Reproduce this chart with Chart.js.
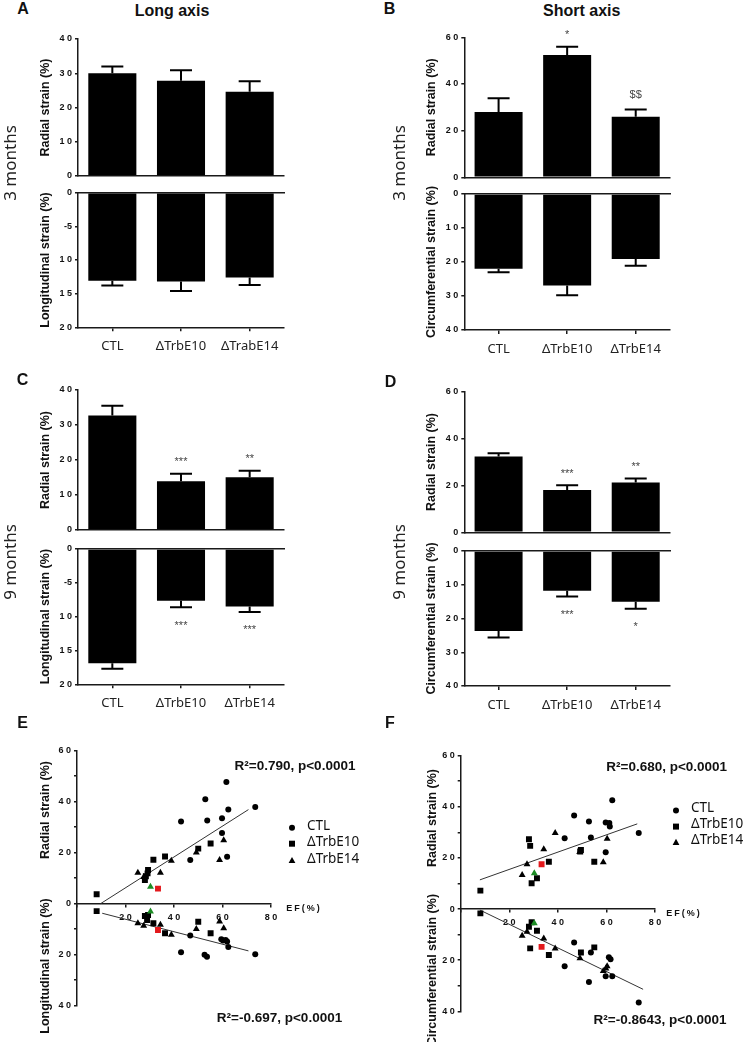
<!DOCTYPE html>
<html><head><meta charset="utf-8">
<script src="https://cdn.jsdelivr.net/npm/chart.js@4.4.1/dist/chart.umd.min.js"></script>
<style>
html,body{margin:0;padding:0;background:#fff;}
#fig{position:relative;width:743px;height:1042px;overflow:hidden;background:#fff;}
#fig canvas{position:absolute;}
.t{position:absolute;white-space:nowrap;transform:translate(-50%,-50%);color:#111;font-family:'Liberation Sans',Arial,sans-serif;line-height:1;}
.rot{transform:translate(-50%,-50%) rotate(-90deg);}
</style></head><body><div id="fig"></div>
<script>
// ---------------- data ----------------
const catsA = ['CTL', 'ΔTrbE10', 'ΔTrabE14'];
const cats = ['CTL', 'ΔTrbE10', 'ΔTrbE14'];

const A_radial = [30.0, 27.8, 24.6];
const A_radial_err = [32.0, 30.9, 27.7];
const A_long = [13.1, 13.2, 12.6];
const A_long_err = [13.8, 14.6, 13.7];

const B_radial = [28.0, 52.4, 26.0];
const B_radial_err = [33.9, 56.0, 29.1];
const B_radial_sig = ['', '*', '$$'];
const B_circ = [22.0, 26.9, 19.1];
const B_circ_err = [23.0, 29.8, 21.1];

const C_radial = [32.7, 13.9, 15.1];
const C_radial_err = [35.5, 16.1, 16.9];
const C_radial_sig = ['', '***', '**'];
const C_long = [16.9, 7.65, 8.5];
const C_long_err = [17.7, 8.6, 9.3];
const C_long_sig = ['', '***', '***'];

const D_radial = [32.3, 18.1, 21.2];
const D_radial_err = [33.7, 20.1, 23.0];
const D_radial_sig = ['', '***', '**'];
const D_circ = [23.7, 11.8, 15.0];
const D_circ_err = [25.6, 13.5, 17.1];
const D_circ_sig = ['', '***', '*'];

const ticks40 = ['0', '1 0', '2 0', '3 0', '4 0'];
const ticks60 = ['0', '2 0', '4 0', '6 0'];
const ticks20neg = ['0', '-5', '1 0', '1 5', '2 0'];
const ticks40down = ['0', '1 0', '2 0', '3 0', '4 0'];
const ticksScatterY = ['4 0', '', '2 0', '', '0', '', '2 0', '', '4 0', '', '6 0'];
const ticksScatterX = ['', '2 0', '4 0', '6 0', '8 0'];
const legendNames = ['CTL', 'ΔTrbE10', 'ΔTrbE14'];

// Panel E (EF % vs strain)
const E_rad_CTL_ef = [61.6, 52.9, 62.4, 73.5, 42.9, 53.7, 59.8, 59.8, 46.7, 61.9];
const E_rad_CTL = [47.7, 41.0, 36.9, 37.9, 32.2, 32.6, 33.5, 27.7, 17.1, 18.4];
const E_rad_E10_ef = [8.1, 31.5, 36.3, 50.0, 55.1, 29.3, 29.1, 28.4, 28.0];
const E_rad_E10 = [3.7, 17.2, 18.5, 21.6, 23.6, 13.2, 11.9, 10.8, 9.3];
const E_rad_E10_red_ef = [33.4];
const E_rad_E10_red = [5.9];
const E_rad_E14_ef = [25.1, 34.4, 38.9, 49.2, 60.5, 58.8, 27.5];
const E_rad_E14 = [12.1, 12.1, 16.8, 20.1, 24.9, 17.1, 10.5];
const E_rad_E14_green_ef = [30.3];
const E_rad_E14_green = [6.6];
const E_long_CTL_ef = [42.9, 52.6, 53.6, 46.7, 59.5, 60.2, 61.3, 61.9, 62.4, 73.5];
const E_long_CTL = [-19.0, -20.0, -20.8, -12.5, -13.9, -14.4, -14.2, -14.8, -17.0, -19.8];
const E_long_E10_ef = [8.1, 28.0, 28.9, 29.3, 31.5, 36.3, 50.0, 55.1];
const E_long_E10 = [-2.9, -4.8, -6.4, -4.4, -7.7, -11.6, -7.1, -11.6];
const E_long_E10_red_ef = [33.4];
const E_long_E10_red = [-10.3];
const E_long_E14_ef = [25.1, 27.5, 34.4, 38.9, 49.2, 58.8, 60.5];
const E_long_E14 = [-7.7, -8.6, -8.3, -12.2, -9.9, -7.0, -9.6];
const E_long_E14_green_ef = [30.3];
const E_long_E14_green = [-3.1];
const E_rad_fit_ef = [9.7, 70.7];
const E_rad_fit = [0.0, 36.9];
const E_long_fit_ef = [10.4, 70.7];
const E_long_fit = [-3.75, -18.5];

// Panel F
const F_rad_CTL_ef = [62.4, 46.7, 52.8, 59.7, 61.2, 61.4, 73.3, 42.8, 53.6, 59.7];
const F_rad_CTL = [42.5, 36.6, 34.2, 33.8, 33.6, 32.3, 29.7, 27.7, 28.0, 22.2];
const F_rad_E10_ef = [8.1, 28.1, 28.6, 29.2, 31.4, 36.3, 49.5, 49.2, 55.0];
const F_rad_E10 = [7.2, 27.3, 24.7, 10.1, 12.0, 18.5, 23.1, 22.5, 18.5];
const F_rad_E10_red_ef = [33.3];
const F_rad_E10_red = [17.5];
const F_rad_E14_ef = [25.3, 27.3, 34.2, 38.9, 49.0, 60.3, 58.7];
const F_rad_E14 = [13.3, 17.5, 23.4, 29.7, 22.3, 27.5, 18.3];
const F_rad_E14_green_ef = [30.3];
const F_rad_E14_green = [14.0];
const F_circ_CTL_ef = [46.7, 53.6, 61.0, 61.7, 42.8, 52.8, 59.7, 62.4, 73.3];
const F_circ_CTL = [-13.1, -17.0, -18.9, -19.6, -22.4, -28.5, -26.3, -26.3, -36.6];
const F_circ_E10_ef = [8.1, 28.1, 29.2, 31.4, 28.6, 36.3, 49.5, 55.0];
const F_circ_E10 = [-1.7, -6.9, -5.2, -8.5, -15.4, -18.0, -17.0, -15.0];
const F_circ_E10_red_ef = [33.3];
const F_circ_E10_red = [-14.8];
const F_circ_E14_ef = [25.3, 27.3, 34.2, 38.9, 49.1, 58.7, 59.8, 60.3];
const F_circ_E14 = [-10.5, -8.9, -11.5, -15.4, -19.3, -24.2, -23.3, -22.4];
const F_circ_E14_green_ef = [30.3];
const F_circ_E14_green = [-5.6];
const F_rad_fit_ef = [7.9, 72.7];
const F_rad_fit = [11.4, 33.3];
const F_circ_fit_ef = [7.9, 75.1];
const F_circ_fit = [-0.4, -31.4];

// ---------------- helpers ----------------
Chart.defaults.font.family = "'Liberation Sans', Arial, sans-serif";
Chart.defaults.color = '#111';
Chart.defaults.animation = false;
const AX = '#1a1a1a';
const fig = document.getElementById('fig');

function place(plot, yW, xH, topH, extraR) {
  const cl = Math.floor(plot.l - yW) - 2;
  const ct = Math.floor(plot.t - topH) - 10;
  const cr = Math.ceil(plot.r) + (extraR || 14);
  const cb = Math.ceil(plot.b + xH) + 10;
  return {cl, ct, w: cr - cl, h: cb - ct,
    pad: {left: plot.l - yW - cl, top: plot.t - topH - ct, right: cr - plot.r, bottom: cb - plot.b - xH}};
}
function mkCanvas(p) {
  const c = document.createElement('canvas');
  c.width = p.w; c.height = p.h;
  c.style.left = p.cl + 'px'; c.style.top = p.ct + 'px';
  c.style.width = p.w + 'px'; c.style.height = p.h + 'px';
  fig.appendChild(c);
  return c;
}
function txt(s, x, y, css, rot) {
  const d = document.createElement('div');
  d.className = 't' + (rot ? ' rot' : '');
  d.textContent = s;
  d.style.left = x + 'px'; d.style.top = y + 'px';
  d.style.cssText += css || '';
  fig.appendChild(d);
}
function zip(xs, ys) { return xs.map((x, i) => ({x, y: ys[i]})); }

const errPlugin = {
  id: 'errbars',
  afterDatasetsDraw(chart, args, opts) {
    const ctx = chart.ctx;
    const meta = chart.getDatasetMeta(0);
    const ys = chart.scales.y;
    const dir = ys.options.reverse ? 1 : -1;
    ctx.save();
    ctx.strokeStyle = '#000';
    ctx.lineWidth = 2;
    meta.data.forEach((bar, i) => {
      const yE = ys.getPixelForValue(opts.err[i]);
      ctx.beginPath();
      ctx.moveTo(bar.x, bar.y); ctx.lineTo(bar.x, yE);
      ctx.moveTo(bar.x - 11, yE); ctx.lineTo(bar.x + 11, yE);
      ctx.stroke();
      const s = opts.sig ? opts.sig[i] : '';
      if (s) {
        const size = 11;
        ctx.font = size + "px 'Liberation Sans', Arial, sans-serif";
        ctx.fillStyle = '#444';
        ctx.textAlign = 'center';
        ctx.textBaseline = 'alphabetic';
        const cy = yE + dir * 15;
        const k = s.indexOf('$') >= 0 ? 0.36 : 0.58;
        ctx.fillText(s, bar.x, cy + k * size);
      }
    });
    ctx.restore();
  }
};

function barChart(plot, labels, vals, err, sig, yMax, step, tickLabels, reverse, title, showCats) {
  const yW = 78, xH = showCats ? 40 : 0;
  const p = place(plot, yW, xH, 0);
  const cv = mkCanvas(p);
  const scales = {
    x: {type: 'category', position: 'bottom', offset: true,
      grid: {display: showCats, offset: false, drawOnChartArea: false, drawTicks: true, tickLength: 4, color: AX, lineWidth: 1.5},
      border: {display: true, color: AX, width: 1.5},
      ticks: {display: showCats, padding: 7, font: {family: "'Noto Sans', sans-serif", size: 13}, color: '#222', maxRotation: 0, autoSkip: false},
      afterFit: s => { s.height = xH; }
    },
    y: {min: 0, max: yMax, reverse: reverse,
      ticks: {stepSize: step, padding: 3, font: {size: 9, weight: 'bold'}, color: '#111',
        callback: v => tickLabels[Math.round(v / step)]},
      grid: {drawOnChartArea: false, drawTicks: true, tickLength: 3, color: AX, lineWidth: 1.5},
      border: {display: true, color: AX, width: 1.5},
      title: {display: true, text: title, font: {size: 12.5, weight: 'bold'}, color: '#111', padding: {top: 38, bottom: 0}},
      afterFit: s => { s.width = yW; }
    }
  };
  if (reverse) {
    scales.x2 = {type: 'category', position: 'top', offset: true, grid: {display: false},
      border: {display: true, color: AX, width: 1.5}, ticks: {display: false},
      afterFit: s => { s.height = 0; }};
  }
  new Chart(cv, {
    type: 'bar',
    data: {labels: labels, datasets: [{data: vals, backgroundColor: '#000', borderWidth: 0, barPercentage: 0.7, categoryPercentage: 1}]},
    options: {responsive: false, animation: false, layout: {padding: p.pad},
      plugins: {legend: {display: false}, tooltip: {enabled: false}, errbars: {err: err, sig: sig}},
      scales: scales},
    plugins: [errPlugin]
  });
}

const legendPlugin = {
  id: 'ptlegend',
  afterDraw(chart, args, opts) {
    const ctx = chart.ctx, ca = chart.chartArea;
    const styles = ['circle', 'rect', 'triangle'];
    ctx.save();
    opts.names.forEach((n, i) => {
      const x = ca.right + 21, y = ca.top + opts.dy[i];
      ctx.fillStyle = '#000';
      ctx.beginPath();
      if (styles[i] === 'circle') ctx.arc(x, y, 3, 0, Math.PI * 2);
      else if (styles[i] === 'rect') ctx.rect(x - 3, y - 3, 6, 6);
      else { ctx.moveTo(x, y - 3.8); ctx.lineTo(x + 3.4, y + 2.4); ctx.lineTo(x - 3.4, y + 2.4); ctx.closePath(); }
      ctx.fill();
      ctx.font = "13.5px 'Noto Sans', sans-serif";
      ctx.fillStyle = '#111';
      ctx.textAlign = 'left';
      ctx.textBaseline = 'middle';
      ctx.fillText(n, ca.right + 36, y - 2);
    });
    ctx.restore();
  }
};

function scatterChart(plot, groups, fits, dy, extraR) {
  const yW = 50;
  const p = place(plot, yW, 0, 0, extraR);
  const cv = mkCanvas(p);
  const ds = [];
  const mk = (data, style, r, col) => ({type: 'scatter', data: data, pointStyle: style, pointRadius: r,
    pointBackgroundColor: col, pointBorderWidth: 0, pointBorderColor: col, showLine: false});
  groups.forEach(g => {
    ds.push(mk(g.ctl, 'circle', 3, '#000'));
    ds.push(mk(g.e10hl, 'rect', 4.2, '#e3191c'));
    ds.push(mk(g.e14hl, 'triangle', 4, '#1c8c24'));
    ds.push(mk(g.e10, 'rect', 4.2, '#000'));
    ds.push(mk(g.e14, 'triangle', 4, '#000'));
  });
  fits.forEach(f => ds.push({type: 'line', data: f, borderColor: '#333', borderWidth: 1, pointRadius: 0, showLine: true, fill: false}));
  new Chart(cv, {
    type: 'scatter',
    data: {datasets: ds},
    options: {responsive: false, animation: false, layout: {padding: p.pad},
      plugins: {legend: {display: false}, tooltip: {enabled: false}, ptlegend: {names: legendNames, dy: dy}},
      scales: {
        x: {type: 'linear', min: 0, max: 80, position: {y: 0},
          ticks: {stepSize: 20, autoSkip: false, maxRotation: 0, padding: 5, font: {size: 9, weight: 'bold'}, color: '#111',
            callback: v => ticksScatterX[Math.round(v / 20)]},
          grid: {drawOnChartArea: false, drawTicks: true, tickLength: 3, color: AX, lineWidth: 1.5},
          border: {display: true, color: AX, width: 1.5}},
        y: {min: -40, max: 60,
          ticks: {stepSize: 10, autoSkip: false, padding: 3, font: {size: 9, weight: 'bold'}, color: '#111',
            callback: v => ticksScatterY[Math.round((v + 40) / 10)]},
          grid: {drawOnChartArea: false, drawTicks: true, tickLength: 3, color: AX, lineWidth: 1.5},
          border: {display: true, color: AX, width: 1.5},
          afterFit: s => { s.width = yW; }}
      }},
    plugins: [legendPlugin]
  });
}

// ---------------- bar panels ----------------
const L = 78, LR = 284, R = 464.3, RR = 670;
barChart({l: L, r: LR, t: 39, b: 176}, catsA, A_radial, A_radial_err, null, 40, 10, ticks40, false, 'Radial strain (%)', false);
barChart({l: L, r: LR, t: 192.7, b: 327.3}, catsA, A_long, A_long_err, null, 20, 5, ticks20neg, true, 'Longitudinal strain (%)', true);
barChart({l: R, r: RR, t: 37.3, b: 177.3}, cats, B_radial, B_radial_err, B_radial_sig, 60, 20, ticks60, false, 'Radial strain (%)', false);
barChart({l: R, r: RR, t: 194, b: 330}, cats, B_circ, B_circ_err, null, 40, 10, ticks40down, true, 'Circumferential strain (%)', true);
barChart({l: L, r: LR, t: 390, b: 530}, cats, C_radial, C_radial_err, C_radial_sig, 40, 10, ticks40, false, 'Radial strain (%)', false);
barChart({l: L, r: LR, t: 549, b: 684.3}, cats, C_long, C_long_err, C_long_sig, 20, 5, ticks20neg, true, 'Longitudinal strain (%)', true);
barChart({l: R, r: RR, t: 391.7, b: 532.3}, cats, D_radial, D_radial_err, D_radial_sig, 60, 20, ticks60, false, 'Radial strain (%)', false);
barChart({l: R, r: RR, t: 551, b: 686}, cats, D_circ, D_circ_err, D_circ_sig, 40, 10, ticks40down, true, 'Circumferential strain (%)', true);

// ---------------- scatter panels ----------------
scatterChart({l: 77, r: 271, t: 750.7, b: 1005.7}, [
  {ctl: zip(E_rad_CTL_ef, E_rad_CTL), e10: zip(E_rad_E10_ef, E_rad_E10), e10hl: zip(E_rad_E10_red_ef, E_rad_E10_red),
   e14: zip(E_rad_E14_ef, E_rad_E14), e14hl: zip(E_rad_E14_green_ef, E_rad_E14_green)},
  {ctl: zip(E_long_CTL_ef, E_long_CTL), e10: zip(E_long_E10_ef, E_long_E10), e10hl: zip(E_long_E10_red_ef, E_long_E10_red),
   e14: zip(E_long_E14_ef, E_long_E14), e14hl: zip(E_long_E14_green_ef, E_long_E14_green)}
], [zip(E_rad_fit_ef, E_rad_fit), zip(E_long_fit_ef, E_long_fit)], [77, 93, 110], 100);

scatterChart({l: 460.7, r: 655, t: 755.6, b: 1011.3}, [
  {ctl: zip(F_rad_CTL_ef, F_rad_CTL), e10: zip(F_rad_E10_ef, F_rad_E10), e10hl: zip(F_rad_E10_red_ef, F_rad_E10_red),
   e14: zip(F_rad_E14_ef, F_rad_E14), e14hl: zip(F_rad_E14_green_ef, F_rad_E14_green)},
  {ctl: zip(F_circ_CTL_ef, F_circ_CTL), e10: zip(F_circ_E10_ef, F_circ_E10), e10hl: zip(F_circ_E10_red_ef, F_circ_E10_red),
   e14: zip(F_circ_E14_ef, F_circ_E14), e14hl: zip(F_circ_E14_green_ef, F_circ_E14_green)}
], [zip(F_rad_fit_ef, F_rad_fit), zip(F_circ_fit_ef, F_circ_fit)], [55, 71, 87], 88);

// ---------------- text ----------------
const bold16 = 'font-weight:bold;font-size:16px;';
txt('A', 23, 9, bold16); txt('B', 389.5, 9, bold16);
txt('C', 22.5, 380, bold16); txt('D', 390.5, 382, bold16);
txt('E', 22.5, 723, bold16); txt('F', 390, 723, bold16);
txt('Long axis', 172, 11, bold16); txt('Short axis', 581.7, 11, bold16);
const mon = "font-family:'Noto Sans',sans-serif;font-size:17px;color:#222;";
txt('3 months', 9, 163, mon, true); txt('3 months', 398, 163, mon, true);
txt('9 months', 9, 562, mon, true); txt('9 months', 397.5, 562, mon, true);
const yt = 'font-weight:bold;font-size:12.5px;';
txt('Radial strain (%)', 45, 810, yt, true);
txt('Longitudinal strain (%)', 45, 966, yt, true);
txt('Radial strain (%)', 431.7, 818, yt, true);
txt('Circumferential strain (%)', 431.7, 970, yt, true);
const r2 = 'font-weight:bold;font-size:13.5px;';
txt('R²=0.790, p<0.0001', 295, 766, r2);
txt('R²=-0.697, p<0.0001', 279.5, 1018, r2);
txt('R²=0.680, p<0.0001', 666.7, 767, r2);
txt('R²=-0.8643, p<0.0001', 660, 1020, r2);
const ef = 'font-weight:bold;font-size:9px;letter-spacing:2px;';
txt('EF(%)', 304, 908, ef);
txt('EF(%)', 684, 912.7, ef);
</script></body></html>
